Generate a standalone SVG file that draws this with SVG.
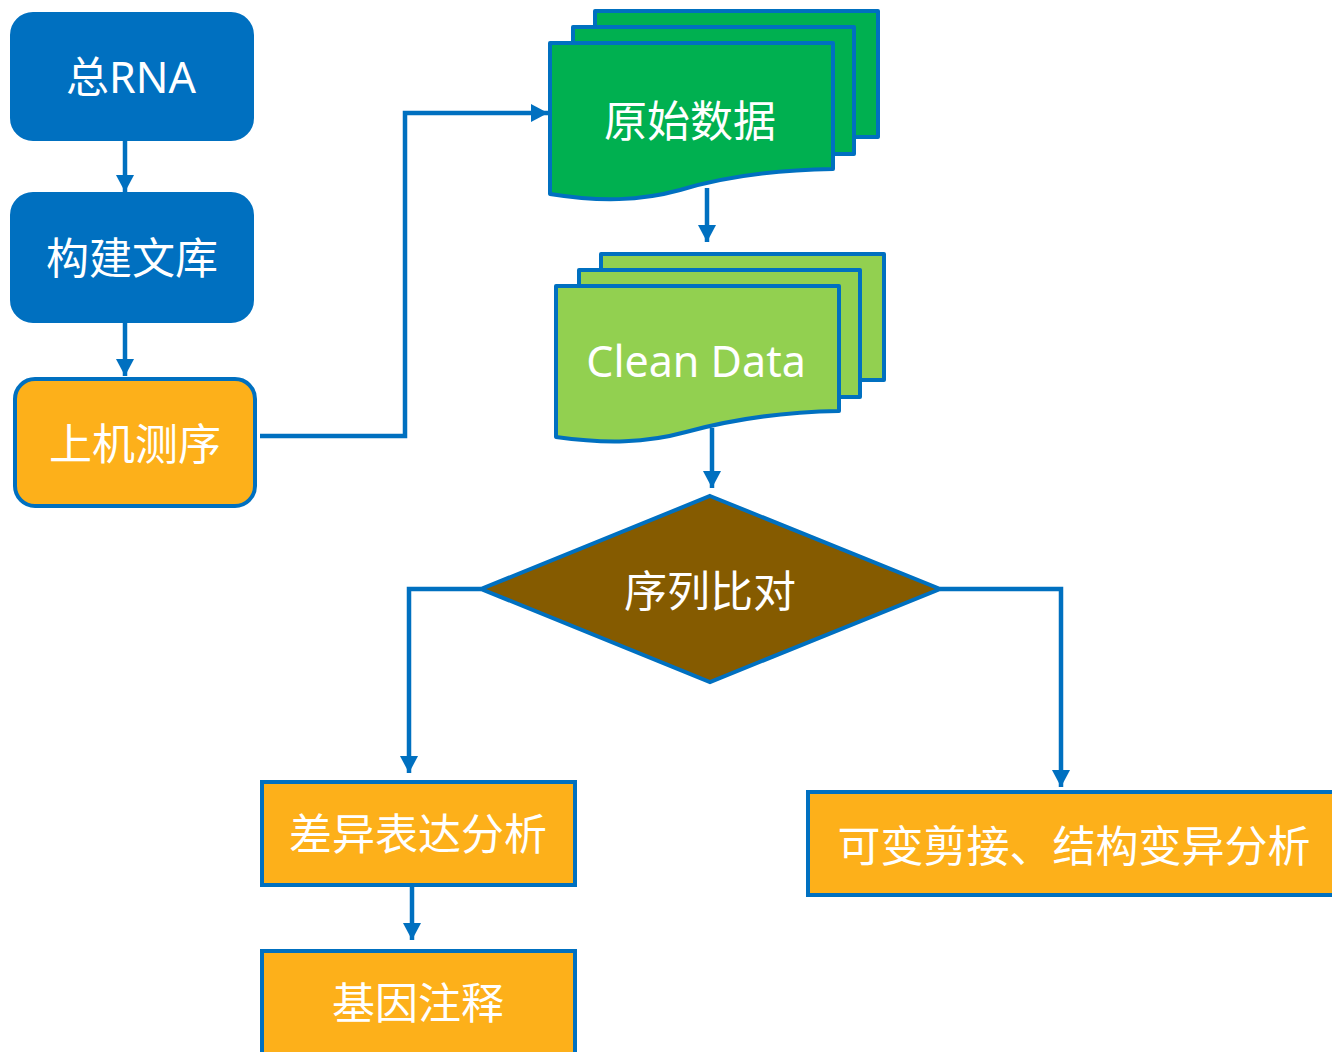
<svg xmlns="http://www.w3.org/2000/svg" width="1332" height="1052" viewBox="0 0 1332 1052">
<style>
.lbl{font-family:"Noto Sans","Noto Sans CJK SC",sans-serif;font-size:43px;fill:#ffffff;text-anchor:middle;dominant-baseline:central}
.blue{fill:#0070C0;stroke:#0070C0;stroke-width:2}
.orange{fill:#FDB01A;stroke:#0070C0;stroke-width:4}
.dark{fill:#00B050;stroke:#0070C0;stroke-width:4;stroke-linejoin:round}
.light{fill:#92D050;stroke:#0070C0;stroke-width:4;stroke-linejoin:round}
.conn{fill:none;stroke:#0070C0;stroke-width:4.5}
</style>
<defs>
<marker id="ah" markerUnits="userSpaceOnUse" markerWidth="18" markerHeight="18" refX="17" refY="9" orient="auto">
<path d="M0,0 L17,9 L0,18 Z" fill="#0070C0"/>
</marker>
</defs>
<rect width="1332" height="1052" fill="#ffffff"/>
<g id="connectors">
<path class="conn" d="M125,140 V192" marker-end="url(#ah)"/>
<path class="conn" d="M125,322 V376" marker-end="url(#ah)"/>
<path class="conn" d="M260,436 H405 V113 H548" marker-end="url(#ah)"/>
<path class="conn" d="M707,188 V242" marker-end="url(#ah)"/>
<path class="conn" d="M712,428 V488" marker-end="url(#ah)"/>
<path class="conn" d="M481,589 H409 V773" marker-end="url(#ah)"/>
<path class="conn" d="M940,589 H1061 V787" marker-end="url(#ah)"/>
<path class="conn" d="M412,885 V940" marker-end="url(#ah)"/>
</g>
<g id="n-rna">
<rect class="blue" x="11" y="13" width="242" height="127" rx="22"/>
<text class="lbl" x="131" y="76">总RNA</text>
</g>
<g id="n-lib">
<rect class="blue" x="11" y="193" width="242" height="129" rx="22"/>
<text class="lbl" x="132" y="257">构建文库</text>
</g>
<g id="n-seq">
<rect class="orange" x="15" y="379" width="240" height="127" rx="20"/>
<text class="lbl" x="135" y="443">上机测序</text>
</g>
<g id="n-raw">
<rect class="dark" x="595" y="11" width="283" height="126"/>
<rect class="dark" x="573" y="27" width="281" height="127"/>
<path class="dark" d="M550,43 H833 V169 C770,170 720,178 680,190 C640,201 600,202 550,194 Z"/>
<text class="lbl" x="690" y="120">原始数据</text>
</g>
<g id="n-clean">
<rect class="light" x="601" y="254" width="283" height="126"/>
<rect class="light" x="579" y="270" width="281" height="127"/>
<path class="light" d="M556,286 H839 V411 C776,412 726,421 686,432 C646,443 606,444 556,437 Z"/>
<text class="lbl" x="696" y="360">Clean Data</text>
</g>
<g id="n-align">
<path d="M710,496 L940,589 L710,682 L481,589 Z" fill="#855B00" stroke="#0070C0" stroke-width="4" stroke-linejoin="miter"/>
<text class="lbl" x="710" y="590">序列比对</text>
</g>
<g id="n-diff">
<rect class="orange" x="262" y="782" width="313" height="103"/>
<text class="lbl" x="418" y="833">差异表达分析</text>
</g>
<g id="n-anno">
<rect class="orange" x="262" y="951" width="313" height="110"/>
<text class="lbl" x="418" y="1002">基因注释</text>
</g>
<g id="n-splice">
<rect class="orange" x="808" y="792" width="540" height="103"/>
<text class="lbl" x="1074" y="845">可变剪接、结构变异分析</text>
</g>
</svg>
